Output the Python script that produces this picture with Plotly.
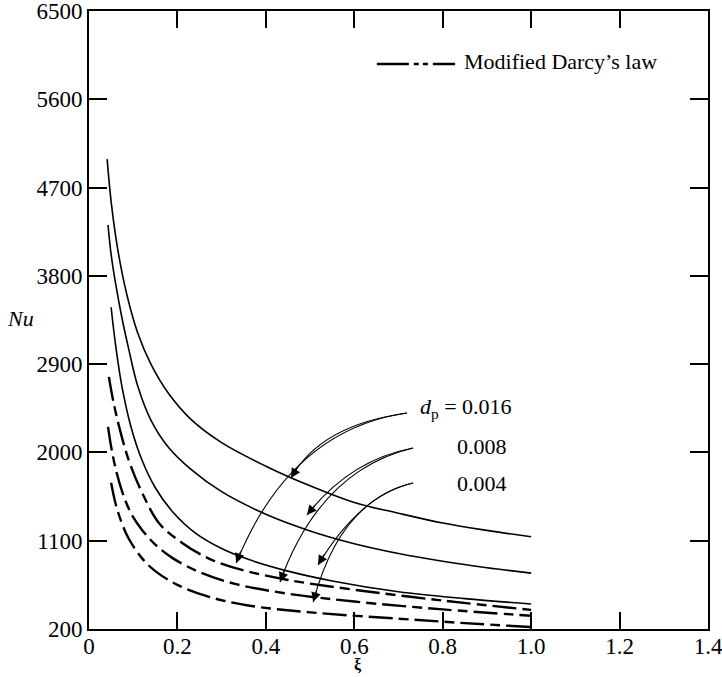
import plotly.graph_objects as go

# ---------------- data ----------------
# Darcy's law (solid)
x_s1 = [0.041, 0.05, 0.065, 0.085, 0.11, 0.14, 0.18, 0.23, 0.3, 0.4, 0.5, 0.6, 0.7, 0.8, 0.9, 1.0]
y_s1 = [4990, 4560, 4070, 3620, 3220, 2900, 2600, 2340, 2100, 1860, 1660, 1490, 1380, 1280, 1205, 1140]

x_s2 = [0.043, 0.05, 0.061, 0.075, 0.09, 0.11, 0.14, 0.18, 0.23, 0.3, 0.4, 0.5, 0.6, 0.7, 0.8, 0.9, 1.0]
y_s2 = [4320, 4020, 3700, 3360, 3050, 2680, 2330, 2050, 1830, 1600, 1370, 1200, 1070, 970, 890, 825, 770]

x_s3 = [0.05, 0.06, 0.075, 0.095, 0.12, 0.15, 0.19, 0.24, 0.3, 0.36, 0.45, 0.55, 0.7, 0.85, 1.0]
y_s3 = [3480, 3100, 2660, 2260, 1920, 1640, 1390, 1180, 1020, 910, 790, 690, 580, 510, 455]

# Modified Darcy's law (dashed)
x_m1 = [0.045, 0.055, 0.07, 0.09, 0.12, 0.16, 0.21, 0.27, 0.34, 0.45, 0.6, 0.8, 1.0]
y_m1 = [2770, 2520, 2230, 1920, 1590, 1270, 1080, 920, 810, 700, 600, 490, 395]

x_m2 = [0.043, 0.05, 0.06, 0.075, 0.095, 0.12, 0.15, 0.19, 0.25, 0.33, 0.45, 0.6, 0.8, 1.0]
y_m2 = [2260, 2060, 1840, 1600, 1380, 1210, 1060, 920, 780, 660, 560, 480, 400, 335]

x_m3 = [0.05, 0.06, 0.075, 0.09, 0.12, 0.15, 0.2, 0.27, 0.36, 0.5, 0.7, 0.85, 1.0]
y_m3 = [1690, 1480, 1270, 1120, 920, 790, 650, 530, 440, 370, 305, 260, 220]

x_tick_vals = [0, 0.2, 0.4, 0.6, 0.8, 1.0, 1.2, 1.4]
x_tick_text = ["0", "0.2", "0.4", "0.6", "0.8", "1.0", "1.2", "1.4"]
y_tick_vals = [200, 1100, 2000, 2900, 3800, 4700, 5600, 6500]

dp_labels = ["<i>d</i><sub>p</sub> = 0.016", "0.008", "0.004"]
dp_label_x = [0.744, 0.828, 0.828]
dp_label_y = [2453, 2065, 1688]

# leader lines: start, control, tip (data coords) and arrowhead tail offsets (px)
lead_start = [(0.719, 2402), (0.719, 2402), (0.733, 2045), (0.733, 2045), (0.733, 1688), (0.733, 1688)]
lead_ctrl = [(0.523, 2280), (0.455, 2230), (0.59, 1923), (0.523, 1821), (0.613, 1566), (0.568, 1515)]
lead_tip = [(0.457, 1739), (0.333, 873), (0.493, 1362), (0.432, 679), (0.518, 852), (0.507, 475)]
lead_tail = [(7, -12), (5, -13), (9, -11), (5, -13), (7, -12), (4, -13)]

FONT = "Liberation Serif"
SOLID_W = 1.6
DASH_W = 2.4
DASH = "24px,6px,10px,6px"

fig = go.Figure()
for xs, ys in [(x_s1, y_s1), (x_s2, y_s2), (x_s3, y_s3)]:
    fig.add_trace(go.Scatter(x=xs, y=ys, mode="lines",
                             line=dict(color="black", width=SOLID_W, shape="spline", smoothing=1.0),
                             showlegend=False, hoverinfo="skip"))
for xs, ys in [(x_m1, y_m1), (x_m2, y_m2), (x_m3, y_m3)]:
    fig.add_trace(go.Scatter(x=xs, y=ys, mode="lines",
                             line=dict(color="black", width=DASH_W, shape="spline", smoothing=1.0, dash=DASH),
                             showlegend=False, hoverinfo="skip"))

shapes = []
annotations = []
for (sx, sy), (cx, cy), (tx, ty), (ax, ay) in zip(lead_start, lead_ctrl, lead_tip, lead_tail):
    shapes.append(dict(type="path", xref="x", yref="y",
                       path=f"M {sx},{sy} Q {cx},{cy} {tx},{ty}",
                       line=dict(color="black", width=1.1)))
    annotations.append(dict(x=tx, y=ty, xref="x", yref="y", ax=ax, ay=ay, text="",
                            showarrow=True, arrowhead=2, arrowsize=1.6, arrowwidth=1.2,
                            arrowcolor="black"))

for t, lx, ly in zip(dp_labels, dp_label_x, dp_label_y):
    annotations.append(dict(x=lx, y=ly, xref="x", yref="y", text=t, showarrow=False,
                            xanchor="left", yanchor="middle",
                            font=dict(family=FONT, size=22, color="black")))

# legend sample
shapes.append(dict(type="line", xref="x", yref="y", x0=0.651, x1=0.828, y0=5960, y1=5960,
                   line=dict(color="black", width=2.4, dash="32px,5px,5px,4px,5px,5px")))
annotations.append(dict(x=0.844, y=5985, xref="x", yref="y", text="Modified Darcy’s law",
                        showarrow=False, xanchor="left", yanchor="middle",
                        font=dict(family=FONT, size=22, color="black")))

# axis titles
annotations.append(dict(x=-0.111, y=3370, xref="paper", yref="y", text="<i>Nu</i>",
                        showarrow=False, xanchor="center", yanchor="middle",
                        font=dict(family=FONT, size=22, color="black")))
annotations.append(dict(x=0.608, y=-0.076, xref="x", yref="paper", text="<b>ξ</b>",
                        showarrow=False, xanchor="center", yanchor="bottom",
                        font=dict(family=FONT, size=16, color="black")))

fig.update_layout(
    width=722, height=677,
    margin=dict(l=89, r=14, t=11, b=48),
    paper_bgcolor="white", plot_bgcolor="white",
    shapes=shapes, annotations=annotations,
    font=dict(family=FONT, size=22, color="black"),
)
fig.update_xaxes(range=[0, 1.4], tickvals=x_tick_vals, ticktext=x_tick_text,
                 ticks="inside", ticklen=17, tickwidth=1.5, tickcolor="black",
                 showline=True, linecolor="black", linewidth=2, mirror="allticks",
                 showgrid=False, zeroline=False, automargin=False,
                 ticklabeloverflow="allow", ticklabelstandoff=-5,
                 tickfont=dict(family=FONT, size=23, color="black"))
fig.update_yaxes(range=[200, 6500], tickvals=y_tick_vals,
                 ticks="inside", ticklen=18, tickwidth=1.5, tickcolor="black",
                 showline=True, linecolor="black", linewidth=2, mirror="allticks",
                 showgrid=False, zeroline=False, automargin=False,
                 ticklabeloverflow="allow",
                 tickfont=dict(family=FONT, size=23, color="black"))

fig.write_html("out.html")
